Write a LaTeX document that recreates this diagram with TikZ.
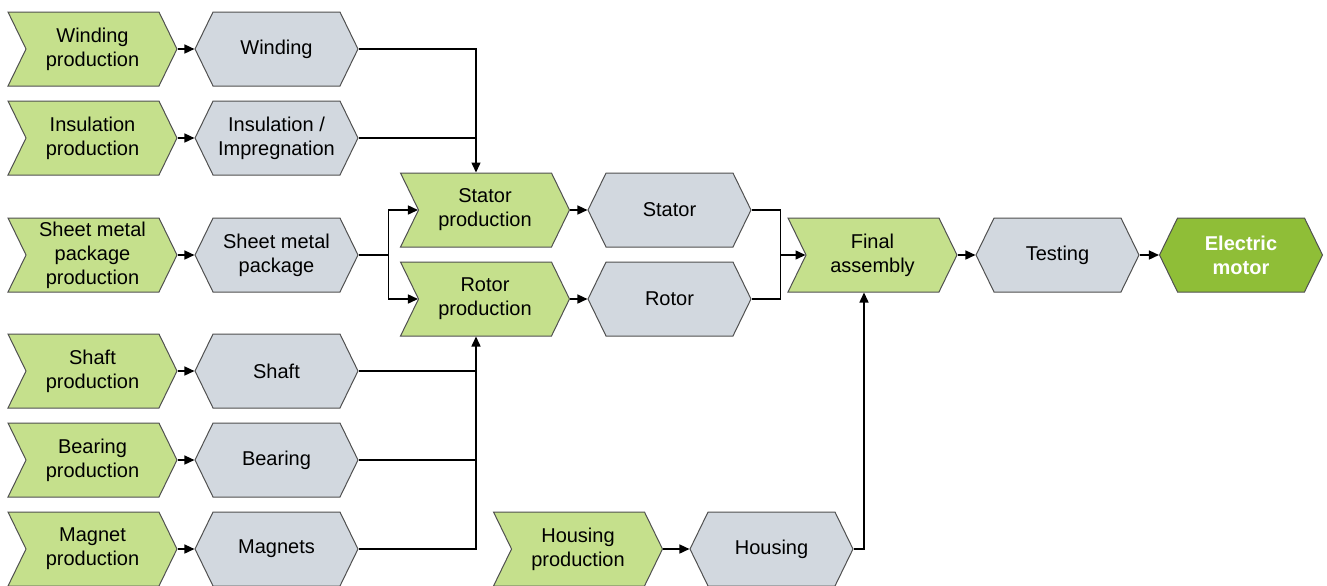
\documentclass[tikz,border=0pt]{standalone}
\usepackage{fontspec}
\setmainfont{Liberation Sans}
\usetikzlibrary{shapes.symbols,arrows.meta}
\definecolor{funcgreen}{HTML}{C5E08C}
\definecolor{eventgrey}{HTML}{D2D8DF}
\definecolor{motorgreen}{HTML}{8FBE37}
\definecolor{edgegrey}{HTML}{505050}
\begin{document}
\begin{tikzpicture}[x=0.5pt,y=-0.5pt,
    func/.style={signal, signal from=west, signal to=east, signal pointer angle=128,
      fill=funcgreen, draw=edgegrey, line width=0.5pt, minimum width=84.5pt,
      minimum height=37pt, inner sep=0pt, align=center, font=\fontsize{10}{12}\selectfont},
    event/.style={func, signal from=nowhere, signal to=east and west,
      fill=eventgrey, minimum width=81.5pt},
    arr/.style={-{Triangle[length=5pt,width=4.5pt]}, line width=0.75pt},
    link/.style={line width=0.75pt}]
    \useasboundingbox (0,0) rectangle (1327,585);

    \node[func] (wp) at (92.5,49) {Winding\\production};
    \node[event] (w) at (276.5,49) {Winding};
    \node[func] (ip) at (92.5,138) {Insulation\\production};
    \node[event] (ins) at (276.5,138) {Insulation /\\Impregnation};
    \node[func] (smp) at (92.5,255) {Sheet metal\\package\\production};
    \node[event] (sm) at (276.5,255) {Sheet metal\\package};
    \node[func] (shp) at (92.5,371) {Shaft\\production};
    \node[event] (sh) at (276.5,371) {Shaft};
    \node[func] (bp) at (92.5,460) {Bearing\\production};
    \node[event] (be) at (276.5,460) {Bearing};
    \node[func] (mp) at (92.5,549) {Magnet\\production};
    \node[event] (mg) at (276.5,549) {Magnets};

    \node[func] (sp) at (485,210) {Stator\\production};
    \node[event] (st) at (669.5,210) {Stator};
    \node[func] (rp) at (485,299) {Rotor\\production};
    \node[event] (ro) at (669.5,299) {Rotor};

    \node[func] (fa) at (872.5,255) {Final\\assembly};
    \node[event] (te) at (1057.5,255) {Testing};
    \node[event, fill=motorgreen, text=white, font=\fontsize{10}{12}\selectfont\bfseries] (em) at (1241,255) {Electric\\motor};

    \node[func] (hp) at (578,549) {Housing\\production};
    \node[event] (ho) at (771.5,549) {Housing};

    \coordinate (sx) at ([xshift=-4.5pt]sp.north);
    \coordinate (rx) at ([xshift=-4.5pt]rp.south);
    \coordinate (fx) at ([xshift=-4.25pt]fa.south);

    \draw[arr] (wp.east) -- (w.west);
    \draw[arr] (ip.east) -- (ins.west);
    \draw[arr] (smp.east) -- (sm.west);
    \draw[arr] (shp.east) -- (sh.west);
    \draw[arr] (bp.east) -- (be.west);
    \draw[arr] (mp.east) -- (mg.west);
    \draw[arr] (hp.east) -- (ho.west);

    \draw[arr] (w.east) -| (sx);
    \draw[link] (ins.east) -- (ins.east -| sx);
    \draw[arr] (sm.east) -- ++(30,0) |- (sp.west);
    \draw[arr] (sm.east) -- ++(30,0) |- (rp.west);
    \draw[arr] (mg.east) -| (rx);
    \draw[link] (sh.east) -- (sh.east -| rx);
    \draw[link] (be.east) -- (be.east -| rx);

    \draw[arr] (sp.east) -- (st.west);
    \draw[arr] (rp.east) -- (ro.west);
    \draw[link] (st.east) -- ++(29,0) |- (ro.east);
    \draw[arr] ([xshift=14.5pt]st.east |- fa.west) -- (fa.west);
    \draw[arr] (ho.east) -| (fx);

    \draw[arr] (fa.east) -- (te.west);
    \draw[arr] (te.east) -- (em.west);
\end{tikzpicture}
\end{document}
